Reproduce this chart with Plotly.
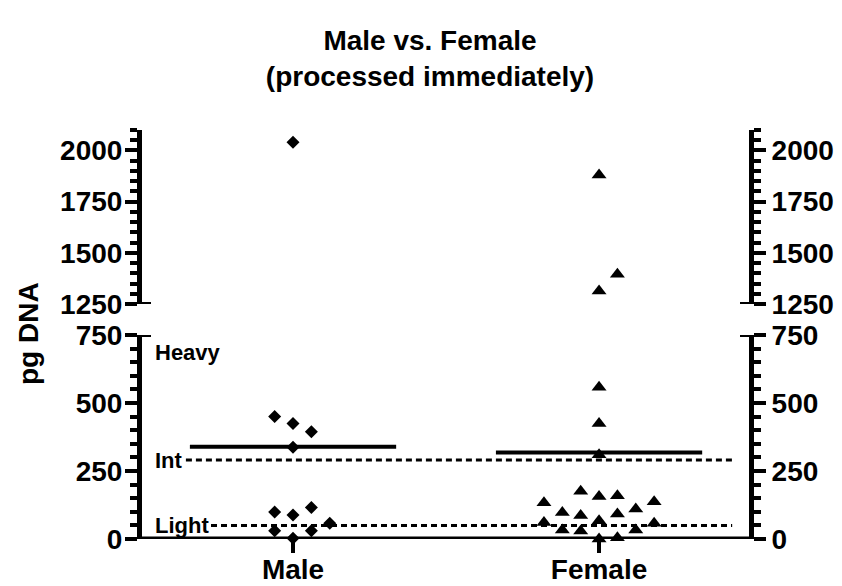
import plotly.graph_objects as go
import numpy as np

# ---------------- data ----------------
categories = ["Male", "Female"]
male_values = [2040, 450, 425, 394, 337, 99, 88, 116, 58, 30, 30, 3]
male_slots = [0, -1, 0, 1, 0, -1, 0, 1, 2, -1, 1, 0]
female_values = [1880, 1395, 1313, 558, 425, 310, 176, 156, 159, 133, 137,
                 97, 86, 92, 110, 67, 61, 58, 33, 29, 33, 5, 0]
female_slots = [0, 1, 0, 0, 0, 0, -1, 0, 1, -3, 3,
                -2, -1, 1, 2, 0, -3, 3, -2, -1, 2, 1, 0]
threshold_labels = ["Heavy", "Int", "Light"]
heavy_label_level = 685
int_level = 290
light_level = 50
axis_break = 750
lower_range = [0, 750]
upper_range = [1250, 2100]
lower_ticks = [0, 250, 500, 750]
upper_ticks = [1250, 1500, 1750, 2000]

# ---------------- geometry / style ----------------
W, H = 842, 586
ML, MR, MT, MB = 142, 93, 130, 47
PW, PH = W - ML - MR, H - MT - MB
lower_dom = [0, 204 / PH]
upper_dom = [235 / PH, 1]
slot_w = 0.06
mean_half = 0.337
FONT = "Liberation Sans, Arial, sans-serif"
BLACK = "#000000"

fig = go.Figure()

groups = [(male_values, male_slots, "diamond", 10),
          (female_values, female_slots, "triangle-up", 13)]
for gi, (vals, slots, sym, msize) in enumerate(groups):
    vals = np.array(vals, dtype=float)
    xs = gi + np.array(slots) * slot_w
    low = vals <= axis_break
    for mask, yref in [(low, "y"), (~low, "y2")]:
        fig.add_trace(go.Scatter(
            x=xs[mask], y=vals[mask], yaxis=yref, mode="markers",
            marker=dict(symbol=sym, size=msize, color=BLACK, line=dict(width=0)),
            cliponaxis=False, showlegend=False, hoverinfo="y"))
    m = vals.mean()
    fig.add_trace(go.Scatter(
        x=[gi - mean_half, gi + mean_half], y=[m, m], yaxis="y", mode="lines",
        line=dict(color=BLACK, width=4), showlegend=False, hoverinfo="y"))

tickfont = dict(family=FONT, size=28, color=BLACK, weight="bold")
common_y = dict(showgrid=False, zeroline=False, showline=True, linewidth=5,
                linecolor=BLACK, ticks="outside", ticklen=12, tickwidth=4,
                tickcolor=BLACK, tickfont=tickfont, automargin=False,
                minor=dict(dtick=50, ticks="outside", ticklen=7, tickwidth=3.5,
                           tickcolor=BLACK, showgrid=False))

fig.update_layout(
    width=W, height=H, margin=dict(l=ML, r=MR, t=MT, b=MB, pad=0, autoexpand=False),
    plot_bgcolor="white", paper_bgcolor="white",
    title=dict(text="Male vs. Female<br>(processed immediately)",
               font=dict(family=FONT, size=28, color=BLACK, weight="bold"),
               x=430 / W, xref="container", xanchor="center",
               y=1 - 50 / H, yref="container", yanchor="top"),
    xaxis=dict(range=[-0.4935, 1.490], tickvals=[0, 1], ticktext=categories,
               showgrid=False, zeroline=False, showline=False, automargin=False,
               ticks="outside", ticklen=13, tickwidth=4, tickcolor=BLACK,
               tickfont=tickfont, ticklabelstandoff=-8, anchor="y"),
    yaxis=dict(domain=lower_dom, range=lower_range, tickvals=lower_ticks,
               side="left", anchor="x", ticklabelstandoff=-3, **common_y),
    yaxis2=dict(domain=upper_dom, range=upper_range, tickvals=upper_ticks,
                side="left", anchor="x", ticklabelstandoff=-3, **common_y),
    yaxis3=dict(overlaying="y", range=lower_range, tickvals=lower_ticks,
                side="right", anchor="x", **common_y),
    yaxis4=dict(overlaying="y2", range=upper_range, tickvals=upper_ticks,
                side="right", anchor="x", **common_y),
)

# dummy traces to activate the right-hand axes
fig.add_trace(go.Scatter(x=[None], y=[None], yaxis="y3", showlegend=False))
fig.add_trace(go.Scatter(x=[None], y=[None], yaxis="y4", showlegend=False))

# x axis baseline at zero
fig.add_shape(type="line", xref="paper", yref="y", x0=-5 / PW, x1=1 + 5 / PW,
              y0=0, y1=0, line=dict(color=BLACK, width=5))
# end caps of the broken axis segments
for yref, yv in [("y", lower_range[1]), ("y2", upper_range[0])]:
    fig.add_shape(type="line", xref="paper", yref=yref, x0=-3 / PW, x1=9 / PW,
                  y0=yv, y1=yv, line=dict(color=BLACK, width=4))
    fig.add_shape(type="line", xref="paper", yref=yref, x0=1 - 9 / PW, x1=1 + 3 / PW,
                  y0=yv, y1=yv, line=dict(color=BLACK, width=4))

# threshold dashed lines
fig.add_shape(type="line", xref="x", yref="y", x0=-0.35, x1=1.435,
              y0=int_level, y1=int_level,
              line=dict(color=BLACK, width=3, dash="6px,4px"))
fig.add_shape(type="line", xref="x", yref="y", x0=-0.268, x1=1.435,
              y0=light_level, y1=light_level,
              line=dict(color=BLACK, width=3, dash="6px,4px"))

lab_font = dict(family=FONT, size=22, color=BLACK, weight="bold")
for txt, lvl in zip(threshold_labels, [heavy_label_level, int_level, light_level]):
    fig.add_annotation(text=txt, xref="x", yref="y", x=-0.457, y=lvl,
                       xanchor="left", yanchor="middle", showarrow=False,
                       font=lab_font)

fig.add_annotation(text="pg DNA", xref="paper", yref="paper",
                   x=(28 - ML) / PW, y=(539 - 334) / PH, textangle=-90,
                   xanchor="center", yanchor="middle", showarrow=False,
                   font=dict(family=FONT, size=28, color=BLACK, weight="bold"))

fig.write_html("out.html")
